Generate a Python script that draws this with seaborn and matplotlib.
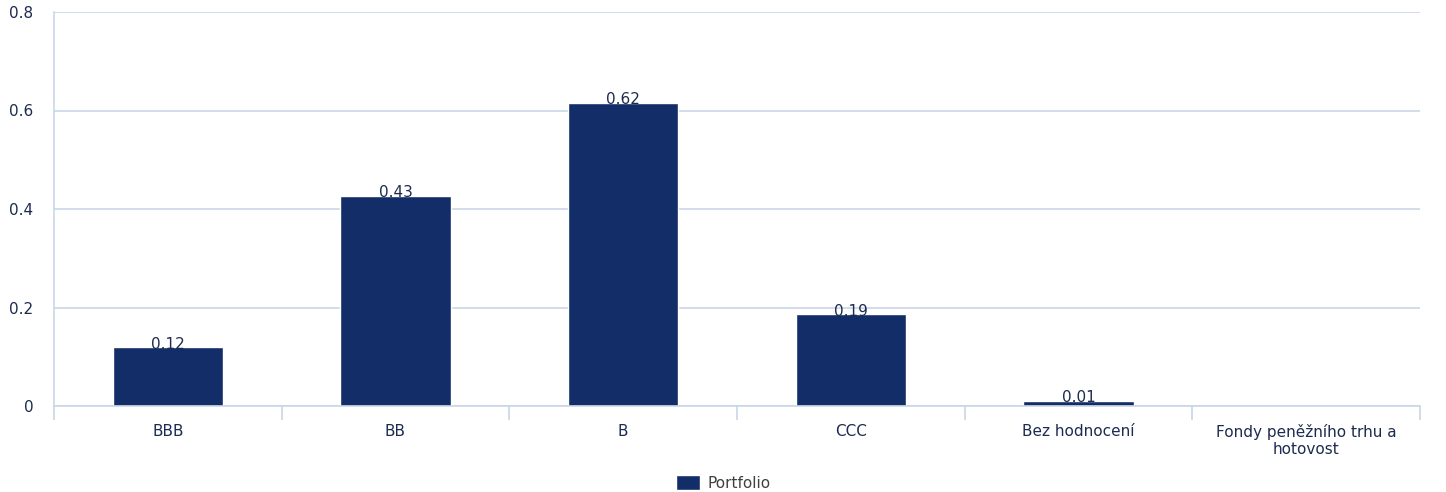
import numpy as np
import pandas as pd
import matplotlib
matplotlib.use("Agg")
import matplotlib.pyplot as plt
import seaborn as sns
from matplotlib.ticker import FixedLocator, FuncFormatter

categories = ["BBB", "BB", "B", "CCC", "Bez hodnocení", "Fondy peněžního trhu a\nhotovost"]
values = [0.119, 0.427, 0.616, 0.186, 0.011, np.nan]
value_labels = ["0.12", "0.43", "0.62", "0.19", "0.01", ""]
series_name = "Portfolio"
yticks = [0, 0.2, 0.4, 0.6, 0.8]

bar_color = "#122d68"
text_color = "#1c2b4f"
legend_text_color = "#404040"
grid_color = "#c9d6e6"

sns.set_theme(style="white")
plt.rcParams["font.family"] = ["DejaVu Sans"]

df = pd.DataFrame({"category": categories, "value": values, "series": series_name})

fig = plt.figure(figsize=(14.46, 4.92), dpi=100)
ax = fig.add_axes([54 / 1446, 86 / 492, (1420 - 54) / 1446, (406 - 12) / 492])

sns.barplot(data=df, x="category", y="value", hue="series", palette=[bar_color],
            width=0.485, ax=ax, saturation=1, legend=True)

ax.set_ylim(0, 0.8)
ax.set_xlim(-0.5, len(categories) - 0.5)
ax.set_yticks(yticks)
ax.yaxis.set_major_formatter(FuncFormatter(lambda v, p: f"{v:g}"))
ax.yaxis.grid(True, color=grid_color, linewidth=1.2)
ax.set_axisbelow(True)
ax.set_xlabel("")
ax.set_ylabel("")

for s in ["top", "right"]:
    ax.spines[s].set_visible(False)
for s in ["left", "bottom"]:
    ax.spines[s].set_color(grid_color)
    ax.spines[s].set_linewidth(1.2)

ax.tick_params(axis="y", length=0, pad=15, labelsize=11, labelcolor=text_color)
ax.tick_params(axis="x", which="major", length=0, pad=13, labelsize=11, labelcolor=text_color)
ax.xaxis.set_minor_locator(FixedLocator(np.arange(-0.5, len(categories), 1.0)))
ax.tick_params(axis="x", which="minor", length=10, width=1.2, color=grid_color, bottom=True)

for i, (v, lab) in enumerate(zip(values, value_labels)):
    if lab and not np.isnan(v):
        ax.annotate(lab, (i, v), xytext=(0, -3), textcoords="offset points",
                    ha="center", va="bottom", fontsize=11, color=text_color)

leg = ax.get_legend()
if leg is not None:
    leg.remove()
handles, labels = ax.get_legend_handles_labels()
fig.legend(handles, labels, loc="lower center", bbox_to_anchor=(0.5, -0.025), frameon=False,
           fontsize=11, labelcolor=legend_text_color, handlelength=1.57, handleheight=1.2,
           handletextpad=0.5)

fig.savefig("out.png", dpi=100)
